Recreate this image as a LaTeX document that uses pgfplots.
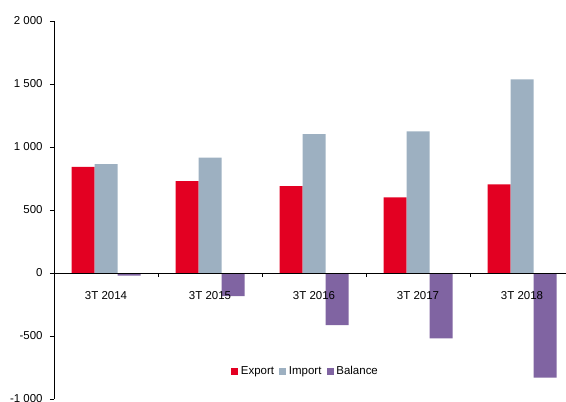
\documentclass[border=0pt]{standalone}
\usepackage{pgfplots}
\pgfplotsset{compat=1.18}
\usepackage{fontspec}
\setmainfont{Liberation Sans}
\definecolor{cexp}{HTML}{E30022}
\definecolor{cimp}{HTML}{9DB0C1}
\definecolor{cbal}{HTML}{8064A2}
\begin{document}
\begin{tikzpicture}[x=0.75pt,y=0.75pt]
\begin{axis}[
  at={(0,0)}, anchor=south west,
  scale only axis, width=384pt, height=283.5pt,
  ybar=0pt, bar width=17.25pt,
  xmin=-0.5, xmax=4.423, ymin=-1000, ymax=2000,
  axis on top,
  axis x line=middle, axis y line=left,
  axis line style={black, line width=0.6pt, -},
  xtick={0,1,2,3,4},
  xticklabels={3T 2014,3T 2015,3T 2016,3T 2017,3T 2018},
  minor xtick={0.5,1.5,2.5,3.5},
  x tick style={draw=none},
  minor x tick style={draw=black, line width=0.6pt},
  minor tick length=3pt,
  xticklabel style={yshift=-7pt},
  ytick={-1000,-500,0,500,1000,1500,2000},
  yticklabels={-1 000,-500,0,500,1 000,1 500,2 000},
  y tick style={black, line width=0.6pt},
  major tick length=3pt,
  tick align=outside,
  tick label style={font=\fontsize{8.6}{10}\selectfont},
  yticklabel style={xshift=-2pt},
  legend style={draw=none, fill=none, font=\fontsize{8.6}{10}\selectfont,
    at={(rel axis cs:0.338,0.073)}, anchor=west,
    /tikz/every even column/.append style={column sep=2pt}},
  legend columns=3,
  legend image code/.code={\fill[#1] (0pt,-2.6pt) rectangle (5.2pt,2.6pt);},
  clip=false,
]
\addplot[fill=cexp, draw=none] coordinates {(0,843) (1,730) (2,690) (3,601) (4,704)};
\addplot[fill=cimp, draw=none] coordinates {(0,865) (1,915) (2,1103) (3,1125) (4,1537)};
\addplot[fill=cbal, draw=none] coordinates {(0,-20) (1,-183) (2,-413) (3,-518) (4,-831)};
\legend{Export,Import,Balance}
\end{axis}
\pgfresetboundingbox
\path[use as bounding box] (-54,-2) rectangle (512,399);
\end{tikzpicture}
\end{document}
